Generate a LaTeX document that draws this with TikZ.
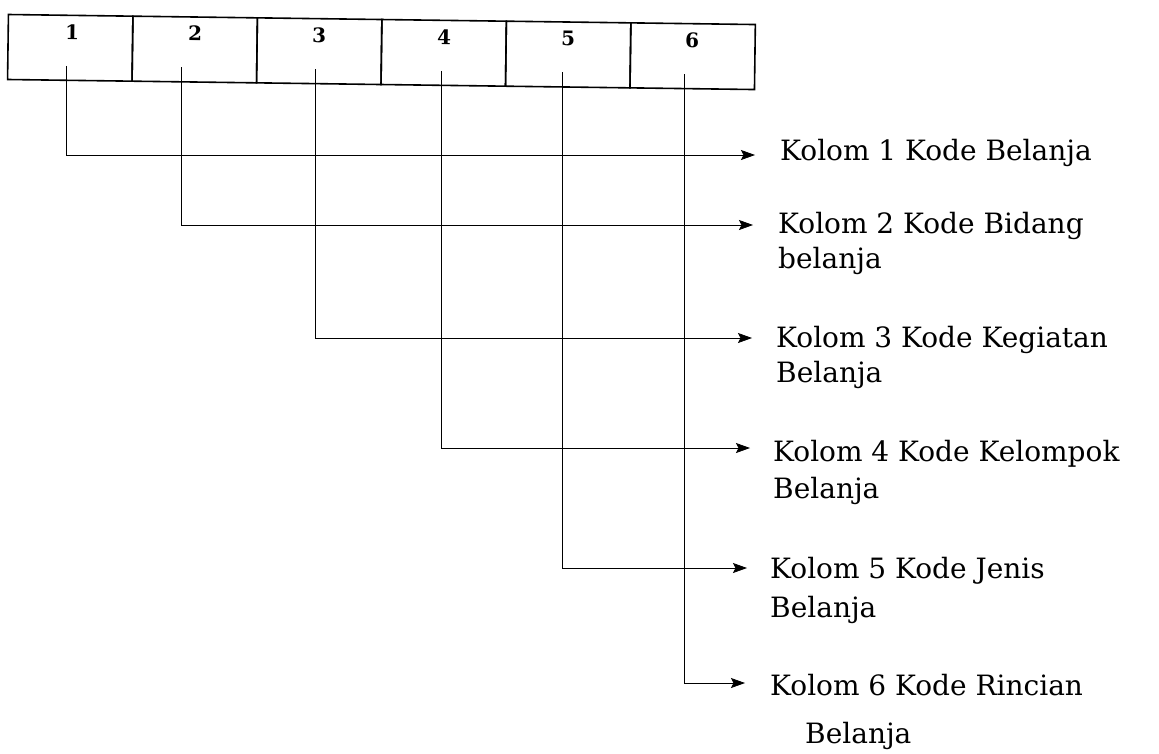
\documentclass[tikz,border=0pt]{standalone}
\usepackage{fontspec}
\newfontfamily\labfont{DejaVu Serif}
\usetikzlibrary{arrows.meta}
\begin{document}
\begin{tikzpicture}[x=1pt,y=1pt,
  cell/.style={draw,line width=1.6pt,minimum width=124.5pt,minimum height=65pt,inner sep=0pt,outer sep=0pt},
  num/.style={font=\labfont\bfseries\fontsize{20}{22}\selectfont,inner sep=0pt},
  lab/.style={anchor=north west,inner sep=0pt,align=left,font=\labfont\fontsize{28}{35}\selectfont},
  conn/.style={line width=0.8pt,-{Stealth[length=14pt,width=10pt,inset=2.5pt]}}]
\useasboundingbox (0,0) rectangle (1159,-753);
% slightly tilted row of cells
\begin{scope}[shift={(8,-47)},rotate=-0.77,transform shape]
  \foreach \i in {1,...,6}{
    \node[cell] (c\i) at ({124.5*(\i-0.5)},0) {};
  }
  \node[num] (n1) at (64,16) {1};
  \node[num] (n2) at (187,16) {2};
  \node[num] (n3) at (311,16) {3};
  \node[num] (n4) at (436,16) {4};
  \node[num] (n5) at (560,16) {5};
  \node[num] (n6) at (684,16) {6};
  % start points inside cells
  \coordinate (s1) at (59,-18);
  \coordinate (s2) at (174,-18);
  \coordinate (s3) at (308,-18);
  \coordinate (s4) at (434,-18);
  \coordinate (s5) at (555,-18);
  \coordinate (s6) at (677,-18);
\end{scope}
% arrow tips
\coordinate (t1) at (755,-155);
\coordinate (t2) at (753,-225);
\coordinate (t3) at (752,-338);
\coordinate (t4) at (750,-448);
\coordinate (t5) at (747,-568);
\coordinate (t6) at (745,-683);
% labels
\node[lab] (l1) at (780,-139) {Kolom 1 Kode Belanja};
\node[lab] (l2) at (778,-212) {Kolom 2 Kode Bidang\\belanja};
\node[lab] (l3) at (776,-326) {Kolom 3 Kode Kegiatan\\Belanja};
\node[lab] (l4) at (773,-440) {Kolom 4 Kode Kelompok\\[2pt]Belanja};
\node[lab] (l5) at (770,-557) {Kolom 5 Kode Jenis\\[4pt]Belanja};
\node[lab] (l6) at (770,-674) {Kolom 6 Kode Rincian\\[13pt]\hspace*{35pt}Belanja};
% connectors
\foreach \i in {1,...,6}{
  \draw[conn] (s\i) |- (t\i);
}
\end{tikzpicture}
\end{document}
